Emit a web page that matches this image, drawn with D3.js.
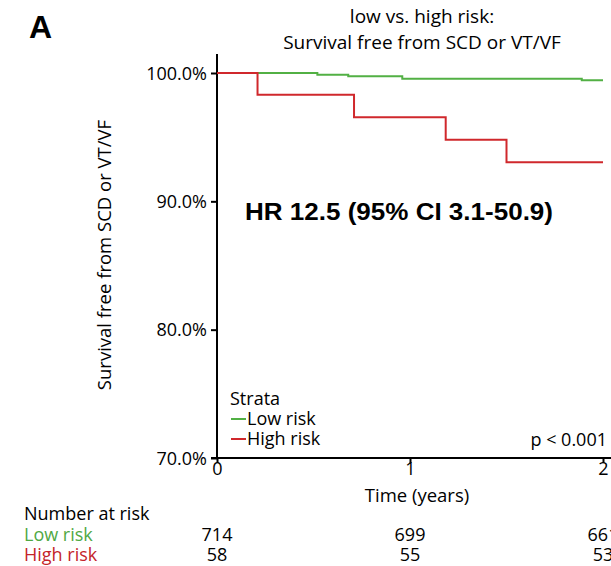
<!DOCTYPE html>
<html>
<head>
<meta charset="utf-8">
<script src="https://cdn.jsdelivr.net/npm/d3@7"></script>
<style>
  body { margin: 0; background: white; }
  svg { display: block; font-family: "Open Sans", sans-serif; }
</style>
</head>
<body>
<div id="chart"></div>
<script>
// step times (years) and survival (%)
var lowTimes = [0, 0.52, 0.68, 0.96, 1.89, 2.0];
var lowSurv = [100, 99.87, 99.74, 99.56, 99.43, 99.43];
var highTimes = [0, 0.21, 0.71, 1.185, 1.50, 2.0];
var highSurv = [100, 98.31, 96.56, 94.80, 93.05, 93.05];

var yTicks = [70, 80, 90, 100];
var xTicks = [0, 1, 2];
var riskTimes = [0, 1, 2];
var riskLow = [714, 699, 661];
var riskHigh = [58, 55, 53];

var green = '#52b044', red = '#d0282c';
var greenText = '#4fa844', redText = '#c4242a';

var svgWidth = 611, svgHeight = 566;
var svg = d3.select('#chart').append('svg')
    .attr('width', svgWidth)
    .attr('height', svgHeight)

var x = d3.scaleLinear().domain([0, 2]).range([217, 603]);
var y = d3.scaleLinear().domain([70, 100]).range([458, 73]);

//panel letter
svg.append('text')
    .text('A')
    .attr('x', 29).attr('y', 38)
    .attr('font-family', 'Liberation Sans, Arial, sans-serif')
    .attr('font-weight', 'bold').attr('font-size', '32px')

//title
svg.append('text')
    .attr('x', 422).attr('y', 23)
    .attr('text-anchor', 'middle').attr('font-size', '19px')
    .text('low vs. high risk:')
svg.append('text')
    .attr('x', 422).attr('y', 49)
    .attr('text-anchor', 'middle').attr('font-size', '19px')
    .text('Survival free from SCD or VT/VF')

//y axis
var yAxis = svg.append('g')
    .attr('transform', 'translate(' + x(0) + ',0)')
    .call(d3.axisLeft(y).tickValues(yTicks).tickSize(6).tickFormat(function(d) { return d.toFixed(1) + '%' }))
yAxis.select('.domain').remove()
yAxis.append('line')
    .attr('x1', 0).attr('x2', 0)
    .attr('y1', 54).attr('y2', y(70))
    .attr('stroke', 'black').attr('stroke-width', 2)
yAxis.selectAll('.tick line').attr('stroke-width', 2)
yAxis.selectAll('.tick text')
    .attr('font-family', '"Open Sans", sans-serif')
    .attr('font-size', '18px').attr('fill', 'black').attr('x', -10).attr('dy', '0.34em')

//x axis
var xAxis = svg.append('g')
    .attr('transform', 'translate(0,' + y(70) + ')')
    .call(d3.axisBottom(x).tickValues(xTicks).tickSize(5).tickFormat(d3.format('d')))
xAxis.select('.domain').remove()
xAxis.append('line')
    .attr('x1', x(0) - 6).attr('x2', 611)
    .attr('y1', 0).attr('y2', 0)
    .attr('stroke', 'black').attr('stroke-width', 2)
xAxis.selectAll('.tick line').attr('stroke-width', 2)
xAxis.selectAll('.tick text')
    .attr('font-family', '"Open Sans", sans-serif')
    .attr('font-size', '18px').attr('fill', 'black').attr('y', 4)

svg.append('text')
    .attr('x', 417).attr('y', 502)
    .attr('text-anchor', 'middle').attr('font-size', '18.5px')
    .text('Time (years)')

//y label
svg.append('text')
    .attr('transform', 'translate(111,255) rotate(-90)')
    .attr('text-anchor', 'middle').attr('font-size', '18.5px')
    .text('Survival free from SCD or VT/VF')

//survival curves
var line = d3.line()
    .x(function(d) { return x(d[0]) })
    .y(function(d) { return y(d[1]) })
    .curve(d3.curveStepAfter)

svg.append('path')
    .datum(d3.zip(lowTimes, lowSurv))
    .attr('d', line)
    .attr('fill', 'none').attr('stroke', green).attr('stroke-width', 2)

svg.append('path')
    .datum(d3.zip(highTimes, highSurv))
    .attr('d', line)
    .attr('fill', 'none').attr('stroke', red).attr('stroke-width', 2)

//HR
svg.append('text')
    .text('HR 12.5 (95% CI 3.1-50.9)')
    .attr('x', 245).attr('y', 220)
    .attr('font-family', 'Liberation Sans, Arial, sans-serif')
    .attr('font-weight', 'bold').attr('font-size', '23px')
    .attr('textLength', 308).attr('lengthAdjust', 'spacingAndGlyphs')

//legend
svg.append('text')
    .text('Strata')
    .attr('x', 230).attr('y', 405).attr('font-size', '18px')
svg.append('line')
    .attr('x1', 231).attr('x2', 246).attr('y1', 419).attr('y2', 419)
    .attr('stroke', green).attr('stroke-width', 2)
svg.append('text')
    .text('Low risk')
    .attr('x', 247).attr('y', 425).attr('font-size', '18px')
svg.append('line')
    .attr('x1', 231).attr('x2', 246).attr('y1', 439).attr('y2', 439)
    .attr('stroke', red).attr('stroke-width', 2)
svg.append('text')
    .text('High risk')
    .attr('x', 247).attr('y', 445).attr('font-size', '18px')

svg.append('text')
    .text('p < 0.001')
    .attr('x', 607).attr('y', 446)
    .attr('text-anchor', 'end').attr('font-size', '18px')

//number at risk table
svg.append('text')
    .text('Number at risk')
    .attr('x', 24).attr('y', 520).attr('font-size', '18px')
svg.append('text')
    .text('Low risk')
    .attr('x', 24).attr('y', 541).attr('font-size', '18px').attr('fill', greenText)
svg.append('text')
    .text('High risk')
    .attr('x', 24).attr('y', 561).attr('font-size', '18px').attr('fill', redText)

svg.selectAll('.riskLow')
    .data(d3.zip(riskTimes, riskLow))
    .enter().append('text')
    .attr('class', 'riskLow')
    .attr('x', function(d) { return x(d[0]) }).attr('y', 541)
    .attr('text-anchor', 'middle').attr('font-size', '18px')
    .text(function(d) { return d[1] })

svg.selectAll('.riskHigh')
    .data(d3.zip(riskTimes, riskHigh))
    .enter().append('text')
    .attr('class', 'riskHigh')
    .attr('x', function(d) { return x(d[0]) }).attr('y', 561)
    .attr('text-anchor', 'middle').attr('font-size', '18px')
    .text(function(d) { return d[1] })
</script>
</body>
</html>
